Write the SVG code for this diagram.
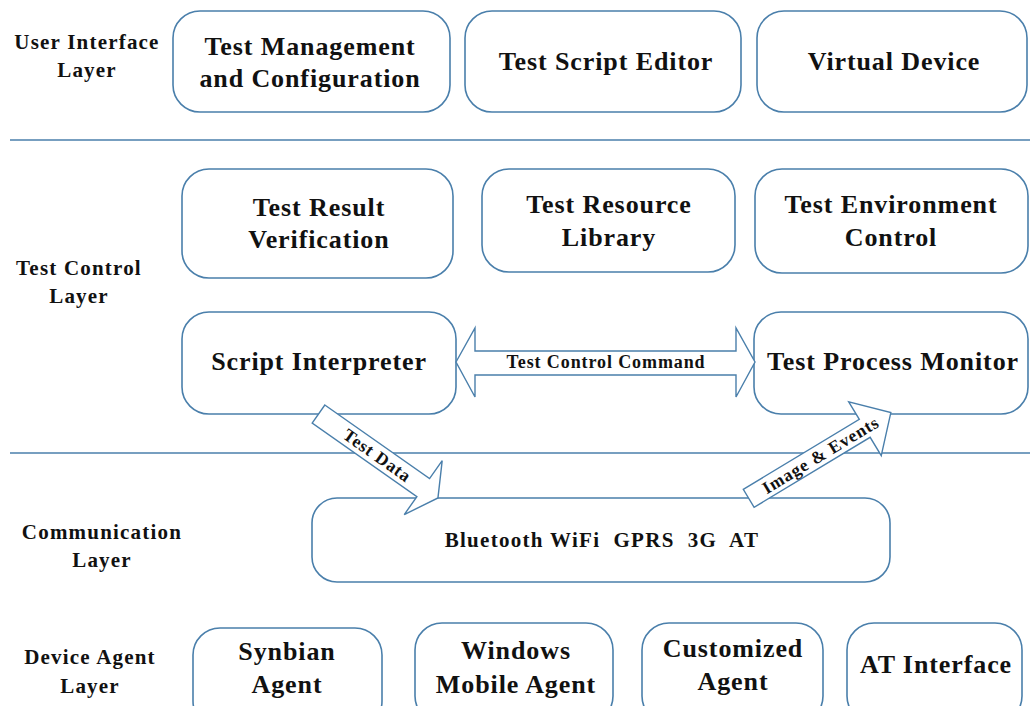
<svg xmlns="http://www.w3.org/2000/svg" width="1030" height="706" viewBox="0 0 1030 706">
<style>
.bx{fill:#fff;stroke:#4a7fab;stroke-width:1.6}
.ln{stroke:#4a7fab;stroke-width:1.6;fill:none}
.ar{fill:#fff;stroke:#4a7fab;stroke-width:1.4;stroke-linejoin:miter}
text{font-family:"Liberation Serif","Times New Roman",serif;font-weight:bold;fill:#111;text-anchor:middle}
.nt{font-size:26px;letter-spacing:0.9px}
.lt{font-size:21px;letter-spacing:1.2px}
.bt{font-size:21px;letter-spacing:1.3px}
.ct{font-size:18px;letter-spacing:0.9px}
.at{font-size:17.5px;letter-spacing:0.9px}
</style>
<rect width="1030" height="706" fill="#fff"/>
<g id="layers">
<line class="ln" x1="10" y1="140" x2="1030" y2="140"/>
<line class="ln" x1="10" y1="453" x2="1030" y2="453"/>
<text class="lt" x="87" y="49">User Interface</text>
<text class="lt" x="87" y="77">Layer</text>
<text class="lt" x="79" y="275">Test Control</text>
<text class="lt" x="79" y="303">Layer</text>
<text class="lt" x="102" y="539">Communication</text>
<text class="lt" x="102" y="567">Layer</text>
<text class="lt" x="90" y="664">Device Agent</text>
<text class="lt" x="90" y="693">Layer</text>
</g>
<g id="n-tmc"><rect class="bx" x="173" y="11" width="277" height="101" rx="27"/><text class="nt" x="310" y="55">Test Management</text><text class="nt" x="310" y="87">and Configuration</text></g>
<g id="n-tse"><rect class="bx" x="465" y="11" width="276" height="101" rx="27"/><text class="nt" x="606" y="70">Test Script Editor</text></g>
<g id="n-vd"><rect class="bx" x="757" y="11" width="270" height="101" rx="27"/><text class="nt" x="894" y="70">Virtual Device</text></g>
<g id="n-trv"><rect class="bx" x="182" y="169" width="271" height="109" rx="27"/><text class="nt" x="319" y="216">Test Result</text><text class="nt" x="319" y="248">Verification</text></g>
<g id="n-trl"><rect class="bx" x="482" y="169" width="253" height="103" rx="27"/><text class="nt" x="609" y="213">Test Resource</text><text class="nt" x="609" y="246">Library</text></g>
<g id="n-tec"><rect class="bx" x="755" y="169" width="273" height="104" rx="27"/><text class="nt" x="891" y="213">Test Environment</text><text class="nt" x="891" y="246">Control</text></g>
<g id="n-si"><rect class="bx" x="182" y="312" width="274" height="102" rx="27"/><text class="nt" x="319" y="370">Script Interpreter</text></g>
<g id="n-tpm"><rect class="bx" x="754" y="312" width="274" height="102" rx="27"/><text class="nt" x="893" y="370">Test Process Monitor</text></g>
<g id="n-comm"><rect class="bx" x="312" y="498" width="578" height="84" rx="25"/><text class="bt" x="602" y="547" xml:space="preserve">Bluetooth WiFi  GPRS  3G  AT</text></g>
<g id="n-sa"><rect class="bx" x="193" y="628" width="189" height="100" rx="27"/><text class="nt" x="287" y="660">Synbian</text><text class="nt" x="287" y="693">Agent</text></g>
<g id="n-wma"><rect class="bx" x="415" y="623" width="198" height="100" rx="27"/><text class="nt" x="516" y="659">Windows</text><text class="nt" x="516" y="693">Mobile Agent</text></g>
<g id="n-ca"><rect class="bx" x="642" y="623" width="181" height="100" rx="27"/><text class="nt" x="733" y="657">Customized</text><text class="nt" x="733" y="690">Agent</text></g>
<g id="n-ati"><rect class="bx" x="847" y="623" width="175" height="100" rx="27"/><text class="nt" x="936" y="673">AT Interface</text></g>
<g id="connectors">
<polygon class="ar" points="456,362 475,328 475,351 736,351 736,328 755,362 736,397 736,375 475,375 475,397"/>
<text class="ct" x="606" y="368">Test Control Command</text>
<g transform="translate(318.5,414) rotate(35.1)">
<polygon class="ar" points="0,-11 128,-11 128,-33 146,0 128,33 128,11 0,11"/>
<text class="at" x="72" y="6">Test Data</text>
</g>
<g transform="translate(748.7,498.3) rotate(-31.1)">
<polygon class="ar" points="0,-10.5 135.5,-10.5 135.5,-31 166,0 135.5,32 135.5,10.5 0,10.5"/>
<text class="at" x="84" y="6">Image &amp; Events</text>
</g>
</g>
</svg>
